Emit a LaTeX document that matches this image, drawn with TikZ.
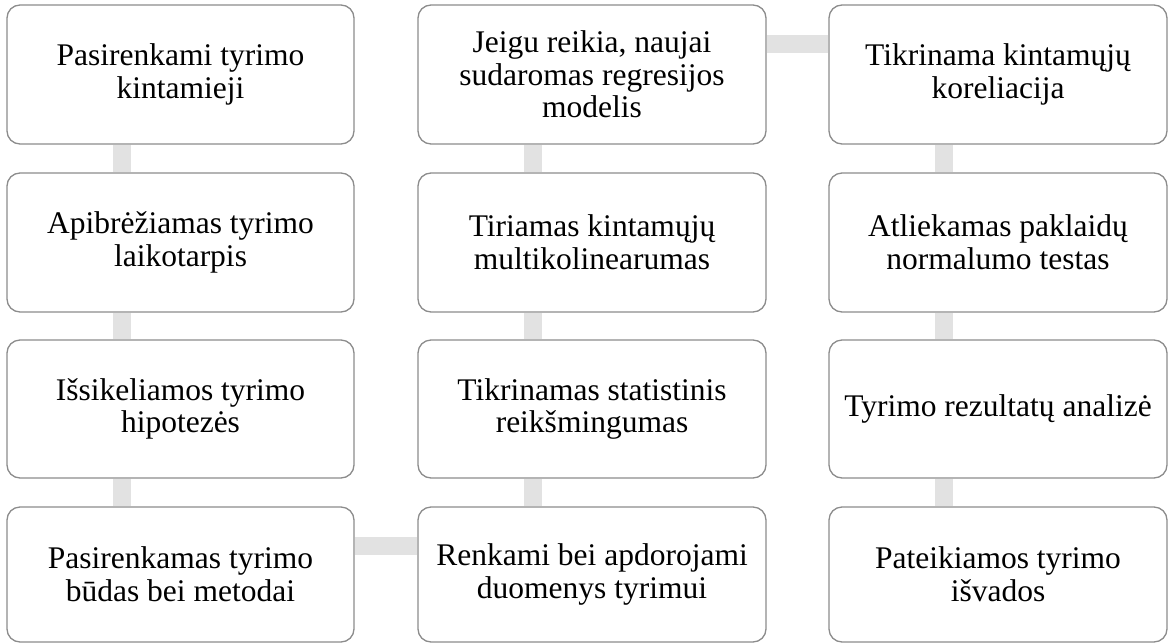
\documentclass[tikz,border=0pt]{standalone}
\usepackage{fontspec}
\setmainfont{Liberation Serif}
\usetikzlibrary{backgrounds}
\definecolor{box-line}{HTML}{8C8C8C}
\definecolor{link-fill}{HTML}{E2E2E2}
\tikzset{
    step-box/.style = {draw=box-line, fill=white, line width=1.3pt, rectangle, rounded corners=13pt, minimum width=347pt, minimum height=139pt, align=center, inner sep=0pt, font=\fontsize{31.5}{32.7}\selectfont},
    step-link/.style = {draw=link-fill, line width=18pt},
}
\begin{document}
\begin{tikzpicture}[x=1pt, y=-1pt]
\useasboundingbox (0,0) rectangle (1168,643);
\node[step-box] (s1) at (180.5,74.5) {Pasirenkami tyrimo\\kintamieji};
\node[step-box] (s2) at (180.5,242.5) {Apibrėžiamas tyrimo\\laikotarpis};
\node[step-box, minimum height=138pt] (s3) at (180.5,409) {Išsikeliamos tyrimo\\hipotezės};
\node[step-box, minimum height=135pt] (s4) at (180.5,574.5) {Pasirenkamas tyrimo\\būdas bei metodai};
\node[step-box, minimum width=348pt, minimum height=135pt] (s5) at (592,574.5) {Renkami bei apdorojami\\duomenys tyrimui};
\node[step-box, minimum width=348pt, minimum height=138pt] (s6) at (592,409) {Tikrinamas statistinis\\reikšmingumas};
\node[step-box, minimum width=348pt] (s7) at (592,242.5) {Tiriamas kintamųjų\\multikolinearumas};
\node[step-box, minimum width=348pt] (s8) at (592,74.5) {Jeigu reikia, naujai\\sudaromas regresijos\\modelis};
\node[step-box, minimum width=338pt] (s9) at (998,74.5) {Tikrinama kintamųjų\\koreliacija};
\node[step-box, minimum width=338pt] (s10) at (998,242.5) {Atliekamas paklaidų\\normalumo testas};
\node[step-box, minimum width=338pt, minimum height=138pt] (s11) at (998,409) {Tyrimo rezultatų analizė};
\node[step-box, minimum width=338pt, minimum height=135pt] (s12) at (998,574.5) {Pateikiamos tyrimo\\išvados};
\begin{scope}[on background layer]
\draw[step-link] ([xshift=116pt]s1.south west) -- ([xshift=116pt]s2.north west);
\draw[step-link] ([xshift=116pt]s2.south west) -- ([xshift=116pt]s3.north west);
\draw[step-link] ([xshift=116pt]s3.south west) -- ([xshift=116pt]s4.north west);
\draw[step-link] ([yshift=-40pt]s4.north east) -- ([yshift=-40pt]s5.north west);
\draw[step-link] ([xshift=116pt]s5.north west) -- ([xshift=116pt]s6.south west);
\draw[step-link] ([xshift=116pt]s6.north west) -- ([xshift=116pt]s7.south west);
\draw[step-link] ([xshift=116pt]s7.north west) -- ([xshift=116pt]s8.south west);
\draw[step-link] ([yshift=-40pt]s8.north east) -- ([yshift=-40pt]s9.north west);
\draw[step-link] ([xshift=116pt]s9.south west) -- ([xshift=116pt]s10.north west);
\draw[step-link] ([xshift=116pt]s10.south west) -- ([xshift=116pt]s11.north west);
\draw[step-link] ([xshift=116pt]s11.south west) -- ([xshift=116pt]s12.north west);
\end{scope}
\end{tikzpicture}
\end{document}
